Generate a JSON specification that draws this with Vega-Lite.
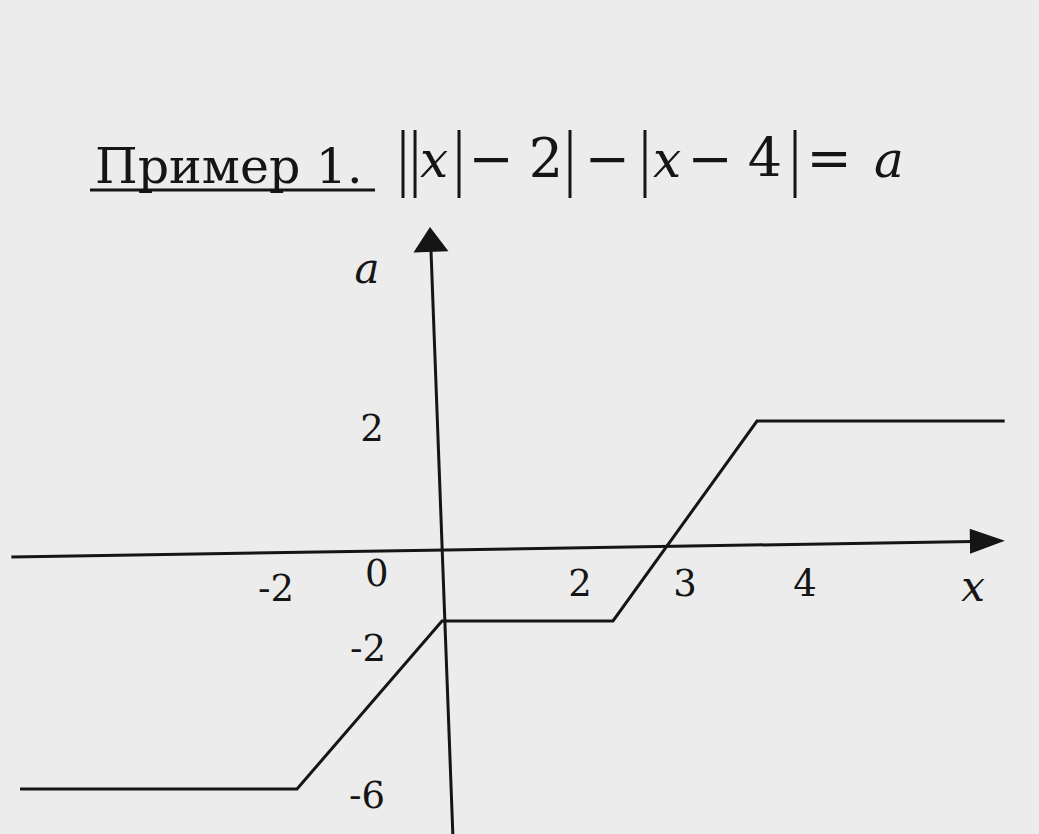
{
  "$schema": "https://vega.github.io/schema/vega-lite/v6.json",
  "width": 1039,
  "height": 834,
  "padding": 0,
  "autosize": {"type": "none"},
  "background": "#ececec",
  "config": {"view": {"stroke": null}},
  "datasets": {
    "graph": [
      {"x": -5.82, "a": -6},
      {"x": -2, "a": -6},
      {"x": 0, "a": -2},
      {"x": 2, "a": -2},
      {"x": 4, "a": 2},
      {"x": 7.44, "a": 2}
    ],
    "axes": [
      {"axis": "x", "x": -5.94, "a": -0.22, "x2": 7.0, "a2": 0.117},
      {"axis": "a", "x": -0.152, "a": 4.67, "x2": 0.129, "a2": -7.2}
    ],
    "arrowX": [{"x": 7.2, "a": 0.125}],
    "arrowA": [{"x": -0.159, "a": 4.836}],
    "ticks": [
      {"t": "-2", "x": -2.29, "a": -1.14},
      {"t": "0", "x": -0.9, "a": -0.72},
      {"t": "2", "x": 1.614, "a": -1.0},
      {"t": "3", "x": 3.0, "a": -1.0},
      {"t": "4", "x": 4.667, "a": -1.0},
      {"t": "2", "x": -0.966, "a": 1.859},
      {"t": "-2", "x": -1.021, "a": -2.69},
      {"t": "-6", "x": -1.034, "a": -6.19}
    ],
    "names": [
      {"t": "x", "x": 7.0, "a": -1.083},
      {"t": "a", "x": -1.034, "a": 4.36}
    ],
    "title": [{"t": "Пример 1.", "x": -4.786, "a": 5.719}],
    "underline": [{"x": -4.855, "x2": -0.924, "a": 5.609}],
    "formulaUpright": [
      {"t": "−", "x": 0.573, "a": 5.8125},
      {"t": "2", "x": 1.216, "a": 5.8125},
      {"t": "−", "x": 1.93, "a": 5.8125},
      {"t": "−", "x": 3.347, "a": 5.8125},
      {"t": "4", "x": 4.111, "a": 5.8125},
      {"t": "=", "x": 5.0, "a": 5.8125}
    ],
    "formulaItalic": [
      {"t": "x", "x": -0.11, "a": 5.8125},
      {"t": "x", "x": 2.75, "a": 5.8125},
      {"t": "a", "x": 5.833, "a": 5.8125}
    ],
    "bars": [
      {"x": -0.538, "a": 6.547, "a2": 5.484},
      {"x": -0.372, "a": 6.547, "a2": 5.484},
      {"x": 0.199, "a": 6.547, "a2": 5.484},
      {"x": 1.497, "a": 6.547, "a2": 5.484},
      {"x": 2.444, "a": 6.547, "a2": 5.484},
      {"x": 4.528, "a": 6.547, "a2": 5.484}
    ]
  },
  "encoding": {
    "x": {"field": "x", "type": "quantitative", "axis": null,
          "scale": {"type": "linear", "domain": [-2, 0, 2, 4], "range": [297, 442, 613, 757], "nice": false, "zero": false}},
    "y": {"field": "a", "type": "quantitative", "axis": null,
          "scale": {"type": "linear", "domain": [-6, -2, 0, 2], "range": [789, 621, 549, 421], "nice": false, "zero": false}}
  },
  "layer": [
    {
      "data": {"name": "axes"},
      "mark": {"type": "rule", "color": "#151515", "strokeWidth": 3},
      "encoding": {"x2": {"field": "x2"}, "y2": {"field": "a2"}}
    },
    {
      "data": {"name": "arrowX"},
      "mark": {"type": "point", "filled": true, "color": "#151515", "opacity": 1, "size": 1225, "angle": -0.9,
               "shape": "M-1,-0.71L1,0L-1,0.71Z"}
    },
    {
      "data": {"name": "arrowA"},
      "mark": {"type": "point", "filled": true, "color": "#151515", "opacity": 1, "size": 1225, "angle": -2.2,
               "shape": "M-1,0.71L0,-0.71L1,0.71Z"}
    },
    {
      "data": {"name": "graph"},
      "mark": {"type": "line", "color": "#151515", "strokeWidth": 3, "strokeJoin": "miter"},
      "encoding": {"order": {"field": "x", "type": "quantitative"}}
    },
    {
      "data": {"name": "ticks"},
      "mark": {"type": "text", "font": "DejaVu Serif", "fontSize": 37, "align": "center", "baseline": "middle", "color": "#151515"},
      "encoding": {"text": {"field": "t"}}
    },
    {
      "data": {"name": "names"},
      "mark": {"type": "text", "font": "DejaVu Serif", "fontStyle": "italic", "fontSize": 42, "align": "center", "baseline": "middle", "color": "#151515"},
      "encoding": {"text": {"field": "t"}}
    },
    {
      "data": {"name": "title"},
      "mark": {"type": "text", "font": "DejaVu Serif", "fontSize": 49, "align": "left", "baseline": "alphabetic", "color": "#151515"},
      "encoding": {"text": {"field": "t"}}
    },
    {
      "data": {"name": "underline"},
      "mark": {"type": "rule", "color": "#151515", "strokeWidth": 3},
      "encoding": {"x2": {"field": "x2"}}
    },
    {
      "data": {"name": "formulaUpright"},
      "mark": {"type": "text", "font": "DejaVu Serif", "fontSize": 54, "align": "center", "baseline": "alphabetic", "color": "#151515"},
      "encoding": {"text": {"field": "t"}}
    },
    {
      "data": {"name": "formulaItalic"},
      "mark": {"type": "text", "font": "DejaVu Serif", "fontStyle": "italic", "fontSize": 50, "align": "center", "baseline": "alphabetic", "color": "#151515"},
      "encoding": {"text": {"field": "t"}}
    },
    {
      "data": {"name": "bars"},
      "mark": {"type": "rule", "color": "#151515", "strokeWidth": 3},
      "encoding": {"y2": {"field": "a2"}}
    }
  ]
}
